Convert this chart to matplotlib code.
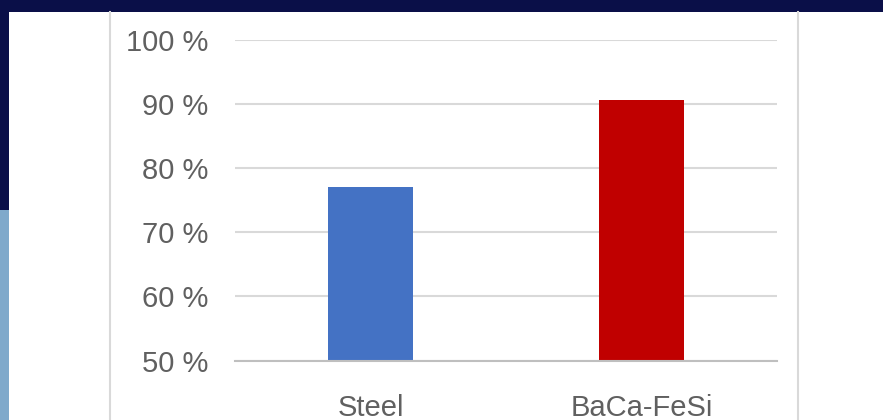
import matplotlib
matplotlib.use("Agg")
import matplotlib.pyplot as plt
from matplotlib.patches import Rectangle
from matplotlib.lines import Line2D
from matplotlib.ticker import FixedLocator

categories = ["Steel", "BaCa-FeSi"]
values = [77.0, 90.5]
bar_colors = ["#4472C4", "#C00000"]
y_ticks = [50, 60, 70, 80, 90, 100]
y_tick_labels = ["50 %", "60 %", "70 %", "80 %", "90 %", "100 %"]

W, H = 883, 420
fig = plt.figure(figsize=(W / 100, H / 100), dpi=100)
fig.patch.set_facecolor("white")

navy = "#0a0f48"
# slide background pieces around the chart panel
fig.patches.append(Rectangle((0, 1 - 12 / H), 1, 12 / H, transform=fig.transFigure,
                             facecolor=navy, edgecolor="none", zorder=0))
fig.patches.append(Rectangle((0, 1 - 210 / H), 9 / W, 210 / H, transform=fig.transFigure,
                             facecolor=navy, edgecolor="none", zorder=0))
fig.patches.append(Rectangle((0, 0), 9 / W, 1 - 210 / H, transform=fig.transFigure,
                             facecolor="#7fa9cb", edgecolor="none", zorder=0))
# chart panel borders
for xpix in (110, 798):
    fig.lines.append(Line2D([xpix / W, xpix / W], [0, 1 - 12 / H], transform=fig.transFigure,
                            color="#d9d9d9", linewidth=1.5))

ax = fig.add_axes([235 / W, (H - 360.5) / H, (777 - 235) / W, (360.5 - 39.5) / H])
ax.set_facecolor("none")

x = list(range(len(categories)))
ax.bar(x, values, width=0.315, color=bar_colors, zorder=3)

ax.set_xlim(-0.5, len(categories) - 0.5)
ax.set_ylim(50, 100)
ax.yaxis.set_major_locator(FixedLocator(y_ticks))
ax.set_yticklabels(y_tick_labels)
ax.set_xticks(x)
ax.set_xticklabels(categories)

ax.grid(axis="y", color="#d9d9d9", linewidth=1.5, zorder=0)
ax.set_axisbelow(True)
for side in ("top", "right", "left"):
    ax.spines[side].set_visible(False)
ax.spines["bottom"].set_color("#bfbfbf")
ax.spines["bottom"].set_linewidth(1.5)
ax.spines["bottom"].set_zorder(4)

ax.tick_params(axis="y", length=0, pad=19, labelsize=21, labelcolor="#606060")
ax.tick_params(axis="x", length=0, pad=24, labelsize=21, labelcolor="#606060")
for lbl in ax.get_xticklabels() + ax.get_yticklabels():
    lbl.set_fontfamily("Liberation Sans")

fig.savefig("out.png", dpi=100)
